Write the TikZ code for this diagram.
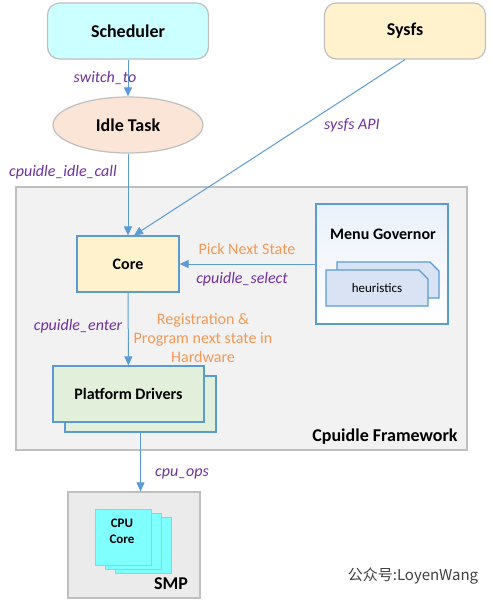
\documentclass[tikz,border=0pt]{standalone}
\usepackage{fontspec}
\setmainfont{Carlito}
\newfontfamily\cjk{Noto Sans CJK SC}
\usetikzlibrary{arrows,arrows.meta,shapes,positioning}
\definecolor{linecolor}{RGB}{91,155,213}
\definecolor{edgegray}{RGB}{191,191,191}
\definecolor{callcolor}{RGB}{112,48,160}
\definecolor{notecolor}{RGB}{242,152,88}
\definecolor{schedcolor}{RGB}{204,255,255}
\definecolor{sysfscolor}{RGB}{255,242,204}
\definecolor{taskcolor}{RGB}{251,229,214}
\definecolor{drvcolor}{RGB}{226,239,218}
\definecolor{heurcolor}{RGB}{218,227,243}
\definecolor{cpucolor}{RGB}{128,255,255}
\definecolor{fwcolor}{RGB}{242,242,242}
\definecolor{smpcolor}{RGB}{235,235,235}
\tikzset{
	topbox/.style={
		rectangle,
		rounded corners=12pt,
		line width=1.2pt,
		draw=edgegray,
		minimum width=161pt,
		minimum height=56pt,
		font=\fontsize{18}{20}\selectfont\bfseries
	},
	task/.style={
		ellipse,
		line width=1.2pt,
		draw=edgegray,
		fill=taskcolor,
		minimum width=150pt,
		minimum height=56pt,
		font=\fontsize{18}{20}\selectfont\bfseries
	},
	block/.style={
		rectangle,
		line width=1.2pt,
		draw=linecolor,
		font=\fontsize{16}{18}\selectfont\bfseries
	},
	frame/.style={
		rectangle,
		line width=1.2pt,
		draw=edgegray
	},
	title/.style={
		font=\fontsize{18}{20}\selectfont\bfseries
	},
	call/.style={
		text=callcolor,
		font=\fontsize{16}{18}\selectfont\itshape
	},
	note/.style={
		text=notecolor,
		align=center,
		font=\fontsize{16}{19}\selectfont
	},
	cpubox/.style={
		rectangle,
		line width=1pt,
		draw=edgegray,
		fill=cpucolor,
		minimum size=56pt
	},
	arrow/.style={
		draw=linecolor,
		line width=1pt,
		-{Triangle[length=9pt,width=8pt]}
	},
}
\begin{document}
\begin{tikzpicture}[x=1pt,y=-1pt]
	\useasboundingbox (0,0) rectangle (492,606);
	% top row
	\node [topbox,fill=schedcolor] (sched) at (128,31) {Scheduler};
	\node [topbox,fill=sysfscolor] (sysfs) at (405,31) {Sysfs};
	\node [task] (idle) at (128,125) {Idle Task};
	% framework
	\node [frame,fill=fwcolor,minimum width=451pt,minimum height=263pt] (fw) at (241.5,318.5) {};
	\node [title] (fwname) at (385,437) {Cpuidle Framework};
	\node [block,fill=sysfscolor,minimum width=102pt,minimum height=56pt] (core) at (128,264) {Core};
	\node [block,top color={rgb,255:red,234;green,240;blue,250},bottom color=white,minimum width=132pt,minimum height=120pt] (menu) at (382,264) {};
	\node [font=\fontsize{16}{18}\selectfont\bfseries] (menuname) at (383,234) {Menu Governor};
	\draw [line width=1.2pt,draw=linecolor,fill=heurcolor] (337,262) -- (430,262) -- (439,271) -- (439,298) -- (337,298) -- cycle;
	\draw [line width=1.2pt,draw=linecolor,fill=heurcolor] (326,270) -- (419,270) -- (428,279) -- (428,306) -- (326,306) -- cycle;
	\node [font=\fontsize{13}{15}\selectfont] (heur) at (377,288) {heuristics};
	\node [block,fill=drvcolor,minimum width=151pt,minimum height=56pt] (pdback) at (140.5,404) {};
	\node [block,fill=drvcolor,minimum width=151pt,minimum height=56pt] (pd) at (128.5,394) {Platform Drivers};
	% smp
	\node [frame,fill=smpcolor,minimum width=132pt,minimum height=106pt] (smp) at (134,545) {};
	\node [cpubox] (cpu3) at (143,545) {};
	\node [cpubox] (cpu2) at (133,541) {};
	\node [cpubox] (cpu1) at (123,537) {};
	\node [align=center,font=\fontsize{13}{16}\selectfont\bfseries] (cpuname) at (122,531) {CPU\\Core};
	\node [title] (smpname) at (171,584) {SMP};
	% connectors
	\draw [arrow] (sched) -- (idle);
	\draw [arrow] (idle) -- (core);
	\draw [arrow] (sysfs.south) -- ([xshift=6pt]core.north);
	\draw [arrow] (menu.west) -- (core.east);
	\draw [arrow] (core) -- (pd);
	\draw [arrow] (pdback.south) -- (pdback.south |- smp.north);
	% labels
	\node [call] (l1) at (105,78) {switch\_to};
	\node [call] (l2) at (352,125) {sysfs API};
	\node [call] (l3) at (63,172) {cpuidle\_idle\_call};
	\node [note] (l4) at (247,249) {Pick Next State};
	\node [call] (l5) at (242,279) {cpuidle\_select};
	\node [call] (l6) at (78,326) {cpuidle\_enter};
	\node [note] (l7) at (203,338) {Registration \&\\Program next state in\\Hardware};
	\node [call] (l8) at (182,474) {cpu\_ops};
	\node [text={rgb,255:red,64;green,64;blue,64},font=\cjk\fontsize{15}{18}\selectfont] (wm) at (413,576) {公众号:LoyenWang};
\end{tikzpicture}
\end{document}
